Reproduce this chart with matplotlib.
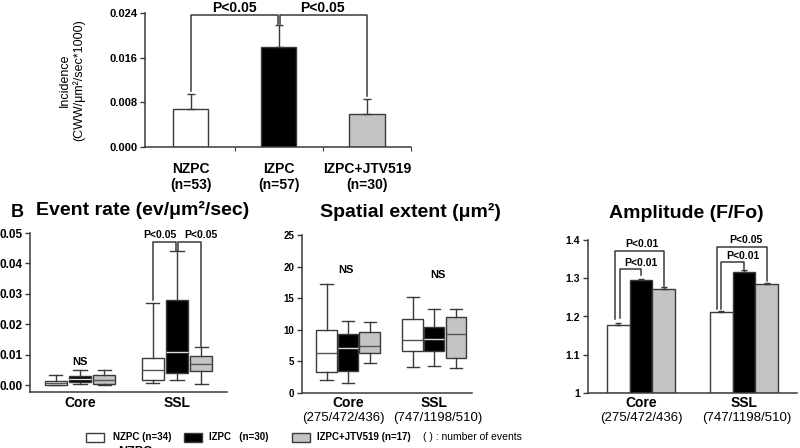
import matplotlib
matplotlib.use("Agg")
import matplotlib.pyplot as plt
from matplotlib.patches import Rectangle

plt.rcParams['font.family'] = ['Liberation Sans', 'DejaVu Sans']
plt.rcParams['font.weight'] = 'bold'

W, H = 800, 448
EDGE = '#3a3a3a'
COLORS = ['white', 'black', '#c4c4c4']

# --- panel A: incidence
inc_labels = ['NZPC\n(n=53)', 'IZPC\n(n=57)', 'IZPC+JTV519\n(n=30)']
inc_values = [0.0068, 0.0180, 0.0059]
inc_err = [0.0027, 0.0038, 0.0027]

# --- panel B: box stats per group, [whislo, q1, med, q3, whishi] for Core, SSL
groups = ['Core', 'SSL']
event_counts = ['(275/472/436)', '(747/1198/510)']
rate_nzpc = [[0.0000, 0.0001, 0.0007, 0.0014, 0.0033], [0.0007, 0.0015, 0.0050, 0.0090, 0.0270]]
rate_izpc = [[0.0003, 0.0009, 0.0020, 0.0028, 0.0050], [0.0017, 0.0040, 0.0110, 0.0280, 0.0440]]
rate_jtv = [[0.0000, 0.0003, 0.0015, 0.0034, 0.0050], [0.0003, 0.0045, 0.0070, 0.0097, 0.0125]]
ext_nzpc = [[2.1, 3.3, 6.3, 10.0, 17.2], [4.1, 6.6, 8.4, 11.7, 15.2]]
ext_izpc = [[1.6, 3.5, 7.1, 9.3, 11.4], [4.2, 6.7, 8.6, 10.5, 13.3]]
ext_jtv = [[4.7, 6.3, 7.5, 9.6, 11.2], [3.9, 5.6, 9.4, 12.1, 13.3]]

amp_nzpc = [1.179, 1.212]
amp_izpc = [1.295, 1.317]
amp_jtv = [1.272, 1.284]
amp_err_nzpc = [0.003, 0.002]
amp_err_izpc = [0.004, 0.004]
amp_err_jtv = [0.004, 0.004]

legend_labels = ['NZPC (n=34)', 'IZPC   (n=30)', 'IZPC+JTV519 (n=17)']

fig = plt.figure(figsize=(W / 100, H / 100), dpi=100)


def px_axes(l, t, r, b, ytick_size):
    ax = fig.add_axes([l / W, 1 - b / H, (r - l) / W, (b - t) / H])
    for s in ['top', 'right']:
        ax.spines[s].set_visible(False)
    for s in ['left', 'bottom']:
        ax.spines[s].set_color(EDGE)
        ax.spines[s].set_linewidth(1.1)
    ax.tick_params(axis='y', length=3.5, width=1, color=EDGE, labelsize=ytick_size, pad=2)
    ax.tick_params(axis='x', which='both', length=0)
    return ax


def bracket(ax, x1, x2, y1, y2, top):
    ax.plot([x1, x1, x2, x2], [y1, top, top, y2], color=EDGE, lw=1.1, clip_on=False)


def ptext(ax, x, y, text, fs, va='center'):
    ax.text(x, y, text, ha='center', va=va, fontsize=fs, fontweight='bold')


# ---------- panel A
ax = px_axes(145, 13, 411, 147, 8)
xs = range(len(inc_values))
ax.bar(xs, inc_values, width=0.4, color=COLORS, edgecolor=EDGE, linewidth=1)
ax.errorbar(xs, inc_values, yerr=[[0, 0, 0], inc_err], fmt='none', ecolor=EDGE,
            elinewidth=1, capsize=3, capthick=1)
ax.set_xlim(-0.52, 2.5)
ax.set_ylim(0, 0.024)
ax.set_yticks([0, 0.008, 0.016, 0.024])
ax.yaxis.set_major_formatter(plt.FormatStrFormatter('%.3f'))
ax.set_xticks([0.5, 1.5, 2.5])
ax.set_xticklabels([])
ax.tick_params(axis='x', which='major', length=3, color=EDGE)
ax.set_xticks(list(xs), inc_labels, minor=True)
ax.tick_params(axis='x', which='minor', labelsize=10, pad=11)
ax.set_ylabel('Incidence\n(CWW/μm²/sec*1000)', fontsize=9, labelpad=17, linespacing=1.15)
top_a = 0.0237
bracket(ax, 0, 0.985, inc_values[0] + inc_err[0] + 0.0005, inc_values[1] + inc_err[1] + 0.0003, top_a)
bracket(ax, 1.015, 2, inc_values[1] + inc_err[1] + 0.0003, inc_values[2] + inc_err[2] + 0.0005, top_a)
ptext(ax, 0.5, 0.0262, 'P<0.05', 10, va='top')
ptext(ax, 1.5, 0.0262, 'P<0.05', 10, va='top')


def draw_boxes(ax, series, offsets, width):
    for k, data in enumerate(series):
        stats = [dict(whislo=d[0], q1=d[1], med=d[2], q3=d[3], whishi=d[4]) for d in data]
        pos = [g + offsets[k] for g in range(len(groups))]
        med_col = '#dddddd' if COLORS[k] == 'black' else '#555555'
        ax.bxp(stats, positions=pos, widths=width, showfliers=False, patch_artist=True,
               capwidths=width * 0.6,
               boxprops=dict(facecolor=COLORS[k], edgecolor=EDGE, linewidth=1),
               whiskerprops=dict(color=EDGE, linewidth=1),
               capprops=dict(color=EDGE, linewidth=1),
               medianprops=dict(color=med_col, linewidth=1))


# ---------- panel B1: event rate
ax1 = px_axes(30, 233, 227, 392, 8.5)
offs1 = [-0.25, 0, 0.25]
draw_boxes(ax1, [rate_nzpc, rate_izpc, rate_jtv], offs1, 0.23)
ax1.set_xlim(-0.515, 1.515)
ax1.set_ylim(-0.0023, 0.05)
ax1.set_yticks([0, 0.01, 0.02, 0.03, 0.04, 0.05])
ax1.yaxis.set_major_formatter(plt.FormatStrFormatter('%.2f'))
ax1.set_xticks([0, 1], groups)
ax1.tick_params(axis='x', labelsize=10, pad=3)
ptext(ax1, 0, 0.0075, 'NS', 8)
top_b1 = 0.0470
bracket(ax1, 1 + offs1[0], 1 + offs1[1] - 0.01, rate_nzpc[1][4] + 0.001, rate_izpc[1][4] + 0.0002, top_b1)
bracket(ax1, 1 + offs1[1] + 0.01, 1 + offs1[2], rate_izpc[1][4] + 0.0002, rate_jtv[1][4] + 0.0003, top_b1)
ptext(ax1, 0.82, 0.0495, 'P<0.05', 7.5)
ptext(ax1, 1.25, 0.0495, 'P<0.05', 7.5)

# ---------- panel B2: spatial extent
ax2 = px_axes(302, 235, 472, 393, 7)
offs2 = [-0.25, 0, 0.25]
draw_boxes(ax2, [ext_nzpc, ext_izpc, ext_jtv], offs2, 0.235)
ax2.set_xlim(-0.535, 1.44)
ax2.set_ylim(0, 25)
ax2.set_yticks([0, 5, 10, 15, 20, 25])
ax2.set_xticks([0, 1], groups)
ax2.tick_params(axis='x', labelsize=10, pad=2)
ptext(ax2, -0.03, 19.4, 'NS', 8)
ptext(ax2, 1.05, 18.7, 'NS', 8)

# ---------- panel B3: amplitude
ax3 = px_axes(588, 240, 797, 393, 7.5)
offs3 = [-0.22, 0, 0.22]
for k, (vals, errs) in enumerate([(amp_nzpc, amp_err_nzpc), (amp_izpc, amp_err_izpc),
                                  (amp_jtv, amp_err_jtv)]):
    pos = [g + offs3[k] for g in range(len(groups))]
    ax3.bar(pos, [v - 1 for v in vals], bottom=1, width=0.22, color=COLORS[k],
            edgecolor=EDGE, linewidth=1)
    ax3.errorbar(pos, vals, yerr=[[0] * len(vals), errs], fmt='none', ecolor=EDGE,
                 elinewidth=1, capsize=2, capthick=1)
ax3.set_xlim(-0.515, 1.515)
ax3.set_ylim(1, 1.4)
ax3.set_yticks([1, 1.1, 1.2, 1.3, 1.4])
ax3.set_yticklabels(['1', '1.1', '1.2', '1.3', '1.4'])
ax3.set_xticks([0, 1], groups)
ax3.tick_params(axis='x', labelsize=10, pad=2)
# Core brackets
bracket(ax3, offs3[0] + 0.02, offs3[1], amp_nzpc[0] + 0.016, amp_izpc[0] + 0.013, 1.324)
bracket(ax3, offs3[0] - 0.03, offs3[2], amp_nzpc[0] + 0.014, amp_jtv[0] + 0.009, 1.371)
ptext(ax3, 0.0, 1.340, 'P<0.01', 7.5)
ptext(ax3, 0.01, 1.390, 'P<0.01', 7.5)
# SSL brackets
bracket(ax3, 1 + offs3[0], 1 + offs3[1], amp_nzpc[1] + 0.008, amp_izpc[1] + 0.008, 1.343)
bracket(ax3, 1 + offs3[0] - 0.04, 1 + offs3[2], amp_nzpc[1] + 0.008, amp_jtv[1] + 0.009, 1.383)
ptext(ax3, 0.99, 1.357, 'P<0.01', 7.5)
ptext(ax3, 1.02, 1.401, 'P<0.05', 7.5)

# event counts under the group names
for a, shifts in ((ax2, [-0.06, 0.04]), (ax3, [0.0, 0.03])):
    for g, txt in enumerate(event_counts):
        a.annotate(txt, xy=(g + shifts[g], 0), xycoords=('data', 'axes fraction'),
                   xytext=(0, -25 / 1.389), textcoords='offset points', ha='center',
                   va='center', fontsize=9.5, fontweight='normal')

# titles
fig.text(17 / W, 1 - 212 / H, 'B', ha='center', va='center', fontsize=13)
fig.text(143 / W, 1 - 210 / H, 'Event rate (ev/μm²/sec)', ha='center', va='center', fontsize=14)
fig.text(410 / W, 1 - 212 / H, 'Spatial extent (μm²)', ha='center', va='center', fontsize=14)
fig.text(686 / W, 1 - 213 / H, 'Amplitude (F/Fo)', ha='center', va='center', fontsize=14)

# legend
leg_box_x = [86, 184, 292]
leg_text_x = [113, 209, 317]
ly = 437
for k in range(3):
    fig.patches.append(Rectangle((leg_box_x[k] / W, 1 - (ly + 4.5) / H), 18 / W, 9 / H,
                                 transform=fig.transFigure, facecolor=COLORS[k],
                                 edgecolor=EDGE, linewidth=1))
    fig.text(leg_text_x[k] / W, 1 - ly / H, legend_labels[k], ha='left', va='center', fontsize=7)
fig.text(423 / W, 1 - ly / H, '( ) : number of events', ha='left', va='center', fontsize=7.5,
         fontweight='normal')
fig.text(118 / W, 1 - 446 / H, 'NZPC', ha='left', va='top', fontsize=9)

fig.savefig('out.png', dpi=100, facecolor='white')
